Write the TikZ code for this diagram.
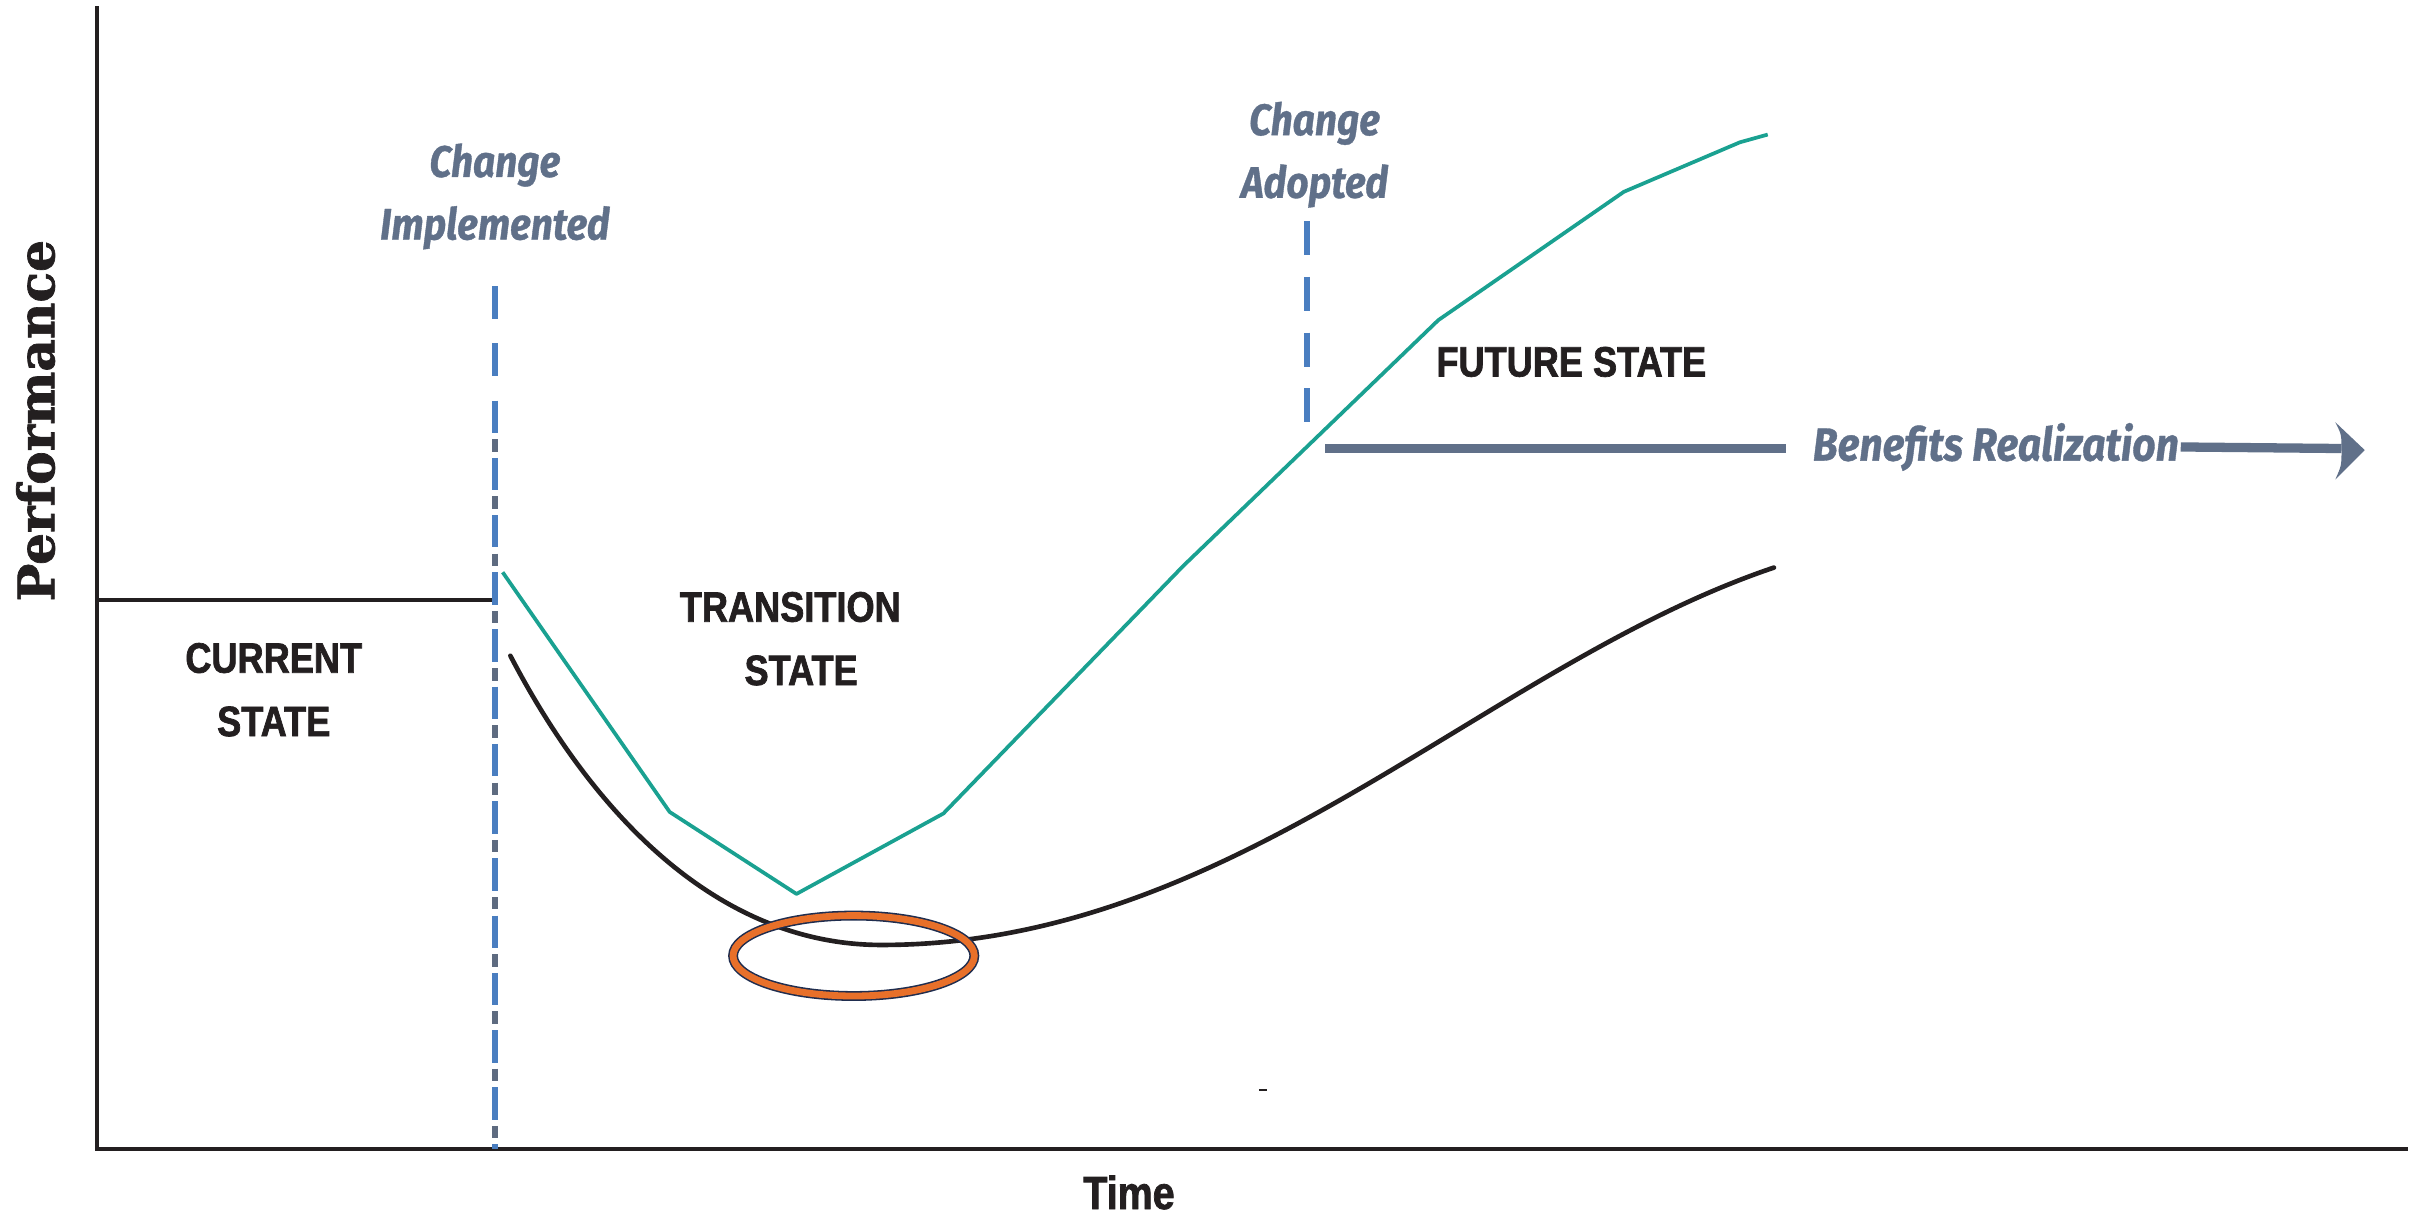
\documentclass[tikz,border=0pt]{standalone}
\usepackage{fontspec}
\usetikzlibrary{arrows.meta}
\newfontfamily\condfont[FakeStretch=0.85, BoldFeatures={FakeBold=1.6}]{Liberation Sans}
\newfontfamily\slatefont[FakeStretch=0.88, BoldItalicFeatures={FakeBold=0.8}]{Fira Sans}
\newfontfamily\perffont[BoldFeatures={FakeBold=1.4}]{DejaVu Serif}
\definecolor{tealc}{HTML}{1AA191}
\definecolor{dashblue}{HTML}{4A7EC0}
\definecolor{dashgray}{HTML}{5E6B80}
\definecolor{slate}{HTML}{607089}
\definecolor{inkc}{HTML}{231F20}
\definecolor{ringorange}{HTML}{E8702A}
\definecolor{ringnavy}{HTML}{1F2D4F}
\tikzset{
  axisline/.style={draw=inkc, line width=2.6pt},
  levelline/.style={draw=inkc, line width=2.2pt},
  tealline/.style={draw=tealc, line width=2.4pt, line join=round},
  curveline/.style={draw=inkc, line width=3pt, line cap=round},
  bluedash/.style={draw=dashblue, line width=3.6pt, dash pattern=on 21pt off 16pt},
  graydash/.style={draw=dashgray, line width=3.8pt, dash pattern=on 8pt off 29pt},
  statelabel/.style={font=\condfont\bfseries\fontsize{27.5}{41}\selectfont, text=inkc, align=center, inner sep=0pt},
  slatelabel/.style={font=\slatefont\bfseries\itshape\fontsize{28.5}{40.5}\selectfont, text=slate, align=center, inner sep=0pt},
  benbar/.style={draw=slate, line width=6pt},
  bentip/.style={fill=slate, draw=none},
}
\begin{document}
\begin{tikzpicture}[x=1pt, y=-1pt]
\useasboundingbox (0,0) rectangle (1568,788);
% axes
\coordinate (ytop) at (63,5);
\coordinate (origin) at (63,743);
\coordinate (xend) at (1556,743);
\draw[axisline, line cap=rect] (ytop) -- (origin) -- (xend);
% current level
\coordinate (cur0) at (63,388);
\coordinate (cur1) at (318,388);
\draw[levelline] (cur0) -- (cur1);
% change implemented dashed line
\coordinate (ciTop) at (320,185);
\coordinate (ciMid) at (320,262);
\coordinate (ciBot) at (320,743);
\draw[bluedash] (ciTop) -- (ciBot);
\draw[graydash, dash phase=15pt] (ciMid) -- (ciBot);
% change adopted dashed line
\coordinate (caTop) at (845,143);
\coordinate (caBot) at (845,273);
\draw[bluedash, dash pattern=on 22pt off 14pt] (caTop) -- (caBot);
% teal performance line
\coordinate (t1) at (325,370);
\coordinate (t2) at (433,525);
\coordinate (t3) at (515,578);
\coordinate (t4) at (610,526);
\coordinate (t5) at (765,366);
\coordinate (t6) at (930,207);
\coordinate (t7) at (1050,124);
\coordinate (t8) at (1125,92);
\coordinate (t9) at (1143,87);
\draw[tealline] (t1) -- (t2) -- (t3) -- (t4) -- (t5) -- (t6) -- (t7) -- (t8) -- (t9);
% black curve
\coordinate (k0) at (330,424);
\coordinate (k1) at (570,611);
\coordinate (k3) at (1147,367);
\draw[curveline] (k0) .. controls (380,520) and (460,611) .. (k1)
  .. controls (800,611) and (960,430) .. (k3);
% orange ring
\coordinate (ringc) at (552,618);
\draw[draw=ringnavy, line width=6.4pt] (ringc) ellipse [x radius=78pt, y radius=26pt];
\draw[draw=ringorange, line width=4.4pt] (ringc) ellipse [x radius=78pt, y radius=26pt];
% small mark
\coordinate (m1) at (814,705);
\coordinate (m2) at (819,705);
\draw[inkc, line width=1.4pt] (m1) -- (m2);
% labels
\node[statelabel] (cur) at (177,446) {CURRENT\\STATE};
\node[statelabel] (trans) at (511,413) {TRANSITION\\\hspace*{14pt}STATE};
\node[statelabel] (fut) at (1016,234) {FUTURE STATE};
\node[statelabel, font=\condfont\bfseries\fontsize{30}{36}\selectfont] (time) at (730,771) {Time};
\node[slatelabel] (ci) at (320,127) {Change\\Implemented};
\node[slatelabel] (ca) at (850,100) {Change\\Adopted};
\node[rotate=90, font=\perffont\bfseries\fontsize{32.5}{36}\selectfont, text=inkc, inner sep=0pt] (perf) at (23,272) {Performance};
% benefits realization arrow
\coordinate (b0) at (857,290);
\coordinate (b1) at (1155,290);
\node[font=\slatefont\bfseries\itshape\fontsize{30}{36}\selectfont, text=slate, inner sep=0pt, anchor=west] (ben) at (1172,289) {Benefits Realization};
\coordinate (bend) at (1514,290);
\coordinate (btip) at (1529,291);
\draw[benbar] (b0) -- (b1);
\draw[benbar] (ben.east) ++(1pt,0) -- (bend);
\fill[bentip] (btip) -- (1510,273) .. controls (1514,281) .. (1514,291) .. controls (1514,301) .. (1510,310) -- cycle;
\end{tikzpicture}
\end{document}
